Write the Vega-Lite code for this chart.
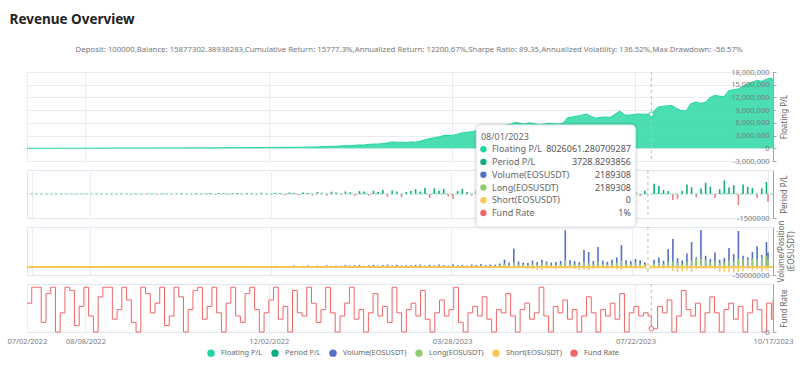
{
"$schema": "https://vega.github.io/schema/vega-lite/v6.json",
"background": "white",
"padding": {"left": 6, "top": 13, "right": 0, "bottom": 0},
"title": {"text": "Revenue Overview", "anchor": "start", "fontSize": 13.5, "fontWeight": "bold", "color": "#222", "offset": 19, "dx": 3, "font": "Noto Sans"},
"datasets": {
"hv": [{"date": "2023-08-01", "fpl": 8026061.28, "ppl": 3728.83, "sht": 0, "fund": 1}],
"tip": [
{"name": "08/01/2023", "val": ""},
{"name": "Floating P/L", "val": "8026061.280709287"},
{"name": "Period P/L", "val": "3728.8293856"},
{"name": "Volume(EOSUSDT)", "val": "2189308"},
{"name": "Long(EOSUSDT)", "val": "2189308"},
{"name": "Short(EOSUSDT)", "val": "0"},
{"name": "Fund Rate", "val": "1%"}
],
"d": [
{"date":"2022-07-02","fpl":0,"ppl":15000,"vol":2e6,"lng":1e6,"sht":-1e6,"fund":9},
{"date":"2022-07-05","fpl":10000,"ppl":-10000,"vol":1.5e6,"lng":0.5e6,"sht":-1e6,"fund":14},
{"date":"2022-07-08","fpl":5000,"ppl":20000,"vol":2.5e6,"lng":1e6,"sht":-1.5e6,"fund":14},
{"date":"2022-07-11","fpl":-10000,"ppl":-25000,"vol":1.5e6,"lng":0.5e6,"sht":-0.5e6,"fund":3},
{"date":"2022-07-14","fpl":0,"ppl":10000,"vol":3e6,"lng":1.5e6,"sht":-1e6,"fund":12},
{"date":"2022-07-17","fpl":10000,"ppl":18000,"vol":2e6,"lng":1e6,"sht":-1e6,"fund":14},
{"date":"2022-07-20","fpl":15000,"ppl":-12000,"vol":1.5e6,"lng":0.5e6,"sht":-0.5e6,"fund":0},
{"date":"2022-07-23","fpl":10000,"ppl":22000,"vol":2.5e6,"lng":1e6,"sht":-1.5e6,"fund":6},
{"date":"2022-07-26","fpl":20000,"ppl":15000,"vol":3.5e6,"lng":1.5e6,"sht":-1e6,"fund":14},
{"date":"2022-07-29","fpl":25000,"ppl":-20000,"vol":2e6,"lng":1e6,"sht":-1e6,"fund":13},
{"date":"2022-08-01","fpl":20000,"ppl":12000,"vol":1.5e6,"lng":0.5e6,"sht":-0.5e6,"fund":2},
{"date":"2022-08-04","fpl":30000,"ppl":25000,"vol":3e6,"lng":1.5e6,"sht":-1.5e6,"fund":8},
{"date":"2022-08-07","fpl":35000,"ppl":-8000,"vol":2.5e6,"lng":1e6,"sht":-1e6,"fund":14},
{"date":"2022-08-10","fpl":30000,"ppl":18000,"vol":2e6,"lng":1e6,"sht":-0.5e6,"fund":5},
{"date":"2022-08-13","fpl":45000,"ppl":30000,"vol":4e6,"lng":2e6,"sht":-1.5e6,"fund":0},
{"date":"2022-08-16","fpl":40000,"ppl":-15000,"vol":2.5e6,"lng":1e6,"sht":-1e6,"fund":11},
{"date":"2022-08-19","fpl":50000,"ppl":20000,"vol":2e6,"lng":1e6,"sht":-1e6,"fund":14},
{"date":"2022-08-22","fpl":55000,"ppl":28000,"vol":3e6,"lng":1.5e6,"sht":-1e6,"fund":14},
{"date":"2022-08-25","fpl":50000,"ppl":-22000,"vol":2.5e6,"lng":1e6,"sht":-1.5e6,"fund":4},
{"date":"2022-08-28","fpl":60000,"ppl":35000,"vol":3.5e6,"lng":1.5e6,"sht":-1e6,"fund":7},
{"date":"2022-08-31","fpl":58000,"ppl":14000,"vol":2e6,"lng":1e6,"sht":-0.5e6,"fund":14},
{"date":"2022-09-03","fpl":65000,"ppl":-30000,"vol":3e6,"lng":1.5e6,"sht":-1e6,"fund":10},
{"date":"2022-09-06","fpl":62000,"ppl":25000,"vol":4e6,"lng":2e6,"sht":-1.5e6,"fund":3},
{"date":"2022-09-09","fpl":70000,"ppl":18000,"vol":2.5e6,"lng":1e6,"sht":-1e6,"fund":0},
{"date":"2022-09-12","fpl":68000,"ppl":-12000,"vol":2e6,"lng":1e6,"sht":-1e6,"fund":14},
{"date":"2022-09-15","fpl":75000,"ppl":30000,"vol":4.5e6,"lng":2e6,"sht":-1.5e6,"fund":12},
{"date":"2022-09-18","fpl":72000,"ppl":22000,"vol":3e6,"lng":1.5e6,"sht":-1e6,"fund":6},
{"date":"2022-09-21","fpl":80000,"ppl":-25000,"vol":2.5e6,"lng":1e6,"sht":-1e6,"fund":9},
{"date":"2022-09-24","fpl":78000,"ppl":40000,"vol":3.5e6,"lng":1.5e6,"sht":-1.5e6,"fund":14},
{"date":"2022-09-27","fpl":85000,"ppl":18000,"vol":5e6,"lng":2.5e6,"sht":-1.5e6,"fund":2},
{"date":"2022-09-30","fpl":82000,"ppl":-35000,"vol":3e6,"lng":1.5e6,"sht":-1e6,"fund":5},
{"date":"2022-10-03","fpl":90000,"ppl":28000,"vol":4e6,"lng":2e6,"sht":-1e6,"fund":14},
{"date":"2022-10-06","fpl":88000,"ppl":45000,"vol":2.5e6,"lng":1e6,"sht":-1.5e6,"fund":11},
{"date":"2022-10-09","fpl":95000,"ppl":-20000,"vol":4.5e6,"lng":2e6,"sht":-1e6,"fund":0},
{"date":"2022-10-12","fpl":100000,"ppl":35000,"vol":3.5e6,"lng":1.5e6,"sht":-1e6,"fund":7},
{"date":"2022-10-15","fpl":98000,"ppl":50000,"vol":5.5e6,"lng":2.5e6,"sht":-1.5e6,"fund":13},
{"date":"2022-10-18","fpl":105000,"ppl":-40000,"vol":3e6,"lng":1.5e6,"sht":-1e6,"fund":14},
{"date":"2022-10-21","fpl":110000,"ppl":30000,"vol":4e6,"lng":2e6,"sht":-1.5e6,"fund":4},
{"date":"2022-10-24","fpl":108000,"ppl":60000,"vol":5e6,"lng":2.5e6,"sht":-1e6,"fund":8},
{"date":"2022-10-27","fpl":115000,"ppl":-25000,"vol":3.5e6,"lng":1.5e6,"sht":-1.5e6,"fund":14},
{"date":"2022-10-30","fpl":120000,"ppl":45000,"vol":6e6,"lng":3e6,"sht":-1.5e6,"fund":6},
{"date":"2022-11-02","fpl":125000,"ppl":55000,"vol":4e6,"lng":2e6,"sht":-1e6,"fund":0},
{"date":"2022-11-05","fpl":122000,"ppl":-50000,"vol":4.5e6,"lng":2e6,"sht":-1.5e6,"fund":9},
{"date":"2022-11-08","fpl":135000,"ppl":40000,"vol":7e6,"lng":3.5e6,"sht":-1.5e6,"fund":14},
{"date":"2022-11-11","fpl":132000,"ppl":70000,"vol":4e6,"lng":2e6,"sht":-1e6,"fund":5},
{"date":"2022-11-14","fpl":145000,"ppl":-35000,"vol":5.5e6,"lng":2.5e6,"sht":-1.5e6,"fund":3},
{"date":"2022-11-17","fpl":155000,"ppl":60000,"vol":4.5e6,"lng":2e6,"sht":-1e6,"fund":12},
{"date":"2022-11-20","fpl":150000,"ppl":45000,"vol":6.5e6,"lng":3e6,"sht":-1.5e6,"fund":14},
{"date":"2022-11-23","fpl":165000,"ppl":-60000,"vol":5e6,"lng":2.5e6,"sht":-1.5e6,"fund":7},
{"date":"2022-11-26","fpl":175000,"ppl":80000,"vol":7.5e6,"lng":3.5e6,"sht":-2e6,"fund":0},
{"date":"2022-11-29","fpl":170000,"ppl":50000,"vol":4.5e6,"lng":2e6,"sht":-1.5e6,"fund":6},
{"date":"2022-12-02","fpl":185000,"ppl":-45000,"vol":6e6,"lng":3e6,"sht":-1.5e6,"fund":10},
{"date":"2022-12-05","fpl":195000,"ppl":75000,"vol":8e6,"lng":4e6,"sht":-2e6,"fund":14},
{"date":"2022-12-08","fpl":190000,"ppl":60000,"vol":5e6,"lng":2.5e6,"sht":-1.5e6,"fund":4},
{"date":"2022-12-11","fpl":210000,"ppl":-80000,"vol":7e6,"lng":3.5e6,"sht":-1.5e6,"fund":8},
{"date":"2022-12-14","fpl":225000,"ppl":90000,"vol":5.5e6,"lng":2.5e6,"sht":-2e6,"fund":0},
{"date":"2022-12-17","fpl":220000,"ppl":55000,"vol":9e6,"lng":4.5e6,"sht":-2e6,"fund":13},
{"date":"2022-12-20","fpl":240000,"ppl":-70000,"vol":6e6,"lng":3e6,"sht":-1.5e6,"fund":6},
{"date":"2022-12-23","fpl":260000,"ppl":100000,"vol":7.5e6,"lng":3.5e6,"sht":-2e6,"fund":5},
{"date":"2022-12-26","fpl":255000,"ppl":65000,"vol":10e6,"lng":5e6,"sht":-2e6,"fund":14},
{"date":"2022-12-29","fpl":290000,"ppl":-90000,"vol":6.5e6,"lng":3e6,"sht":-1.5e6,"fund":9},
{"date":"2023-01-01","fpl":320000,"ppl":120000,"vol":8.5e6,"lng":4e6,"sht":-2e6,"fund":3},
{"date":"2023-01-04","fpl":350000,"ppl":80000,"vol":7e6,"lng":3.5e6,"sht":-1.5e6,"fund":7},
{"date":"2023-01-07","fpl":400000,"ppl":-100000,"vol":11e6,"lng":5.5e6,"sht":-2.5e6,"fund":14},
{"date":"2023-01-10","fpl":450000,"ppl":140000,"vol":7.5e6,"lng":3.5e6,"sht":-2e6,"fund":6},
{"date":"2023-01-13","fpl":480000,"ppl":90000,"vol":9.5e6,"lng":4.5e6,"sht":-2e6,"fund":0},
{"date":"2023-01-16","fpl":550000,"ppl":-60000,"vol":8e6,"lng":4e6,"sht":-2e6,"fund":5},
{"date":"2023-01-19","fpl":600000,"ppl":160000,"vol":12e6,"lng":6e6,"sht":-2.5e6,"fund":9},
{"date":"2023-01-22","fpl":620000,"ppl":110000,"vol":9e6,"lng":4.5e6,"sht":-2e6,"fund":14},
{"date":"2023-01-25","fpl":680000,"ppl":-120000,"vol":10.5e6,"lng":5e6,"sht":-2.5e6,"fund":4},
{"date":"2023-01-28","fpl":780000,"ppl":180000,"vol":13e6,"lng":6.5e6,"sht":-2.5e6,"fund":7},
{"date":"2023-01-31","fpl":760000,"ppl":150000,"vol":8.5e6,"lng":4e6,"sht":-2e6,"fund":0},
{"date":"2023-02-03","fpl":900000,"ppl":-90000,"vol":11.5e6,"lng":5.5e6,"sht":-2.5e6,"fund":6},
{"date":"2023-02-06","fpl":1000000,"ppl":200000,"vol":14e6,"lng":7e6,"sht":-2.5e6,"fund":12},
{"date":"2023-02-09","fpl":980000,"ppl":130000,"vol":10e6,"lng":5e6,"sht":-2e6,"fund":5},
{"date":"2023-02-12","fpl":1150000,"ppl":250000,"vol":12.5e6,"lng":6e6,"sht":-2.5e6,"fund":8},
{"date":"2023-02-15","fpl":1250000,"ppl":-180000,"vol":15e6,"lng":7.5e6,"sht":-3e6,"fund":3},
{"date":"2023-02-18","fpl":1500000,"ppl":220000,"vol":11e6,"lng":5.5e6,"sht":-2.5e6,"fund":14},
{"date":"2023-02-21","fpl":1400000,"ppl":160000,"vol":13.5e6,"lng":6.5e6,"sht":-2.5e6,"fund":6},
{"date":"2023-02-24","fpl":1450000,"ppl":-200000,"vol":9.5e6,"lng":4.5e6,"sht":-2e6,"fund":0},
{"date":"2023-02-27","fpl":1350000,"ppl":120000,"vol":12e6,"lng":6e6,"sht":-2.5e6,"fund":7},
{"date":"2023-03-02","fpl":1500000,"ppl":180000,"vol":10.5e6,"lng":5e6,"sht":-2.5e6,"fund":9},
{"date":"2023-03-05","fpl":1450000,"ppl":300000,"vol":13e6,"lng":6.5e6,"sht":-3e6,"fund":5},
{"date":"2023-03-08","fpl":1700000,"ppl":150000,"vol":15e6,"lng":7.5e6,"sht":-3e6,"fund":13},
{"date":"2023-03-11","fpl":2000000,"ppl":380000,"vol":9e6,"lng":4.5e6,"sht":-2.5e6,"fund":4},
{"date":"2023-03-14","fpl":2300000,"ppl":-240000,"vol":14e6,"lng":7e6,"sht":-3e6,"fund":0},
{"date":"2023-03-17","fpl":2500000,"ppl":350000,"vol":11e6,"lng":5.5e6,"sht":-2.5e6,"fund":6},
{"date":"2023-03-20","fpl":2700000,"ppl":200000,"vol":16e6,"lng":8e6,"sht":-3e6,"fund":10},
{"date":"2023-03-23","fpl":3100000,"ppl":320000,"vol":12.5e6,"lng":6e6,"sht":-3e6,"fund":5},
{"date":"2023-03-26","fpl":3000000,"ppl":-150000,"vol":10e6,"lng":5e6,"sht":-2.5e6,"fund":7},
{"date":"2023-03-29","fpl":3100000,"ppl":-300000,"vol":17.5e6,"lng":8.5e6,"sht":-3e6,"fund":14},
{"date":"2023-04-01","fpl":3400000,"ppl":180000,"vol":11e6,"lng":5.5e6,"sht":-2.5e6,"fund":3},
{"date":"2023-04-04","fpl":3700000,"ppl":320000,"vol":14e6,"lng":7e6,"sht":-3e6,"fund":0},
{"date":"2023-04-07","fpl":3800000,"ppl":120000,"vol":9e6,"lng":4.5e6,"sht":-2.5e6,"fund":6},
{"date":"2023-04-10","fpl":3900000,"ppl":-100000,"vol":15e6,"lng":7.5e6,"sht":-3e6,"fund":8},
{"date":"2023-04-13","fpl":4300000,"ppl":250000,"vol":12.5e6,"lng":6e6,"sht":-3e6,"fund":5},
{"date":"2023-04-16","fpl":4500000,"ppl":200000,"vol":18.5e6,"lng":9e6,"sht":-3.5e6,"fund":11},
{"date":"2023-04-19","fpl":4600000,"ppl":-150000,"vol":12e6,"lng":6e6,"sht":-3e6,"fund":4},
{"date":"2023-04-22","fpl":4900000,"ppl":300000,"vol":15.5e6,"lng":7.5e6,"sht":-3e6,"fund":0},
{"date":"2023-04-25","fpl":5000000,"ppl":180000,"vol":14e6,"lng":7e6,"sht":-3.5e6,"fund":7},
{"date":"2023-04-28","fpl":5200000,"ppl":260000,"vol":22e6,"lng":11e6,"sht":-6e6,"fund":6},
{"date":"2023-05-01","fpl":5500000,"ppl":350000,"vol":45e6,"lng":20e6,"sht":-8e6,"fund":12},
{"date":"2023-05-04","fpl":5700000,"ppl":-200000,"vol":26e6,"lng":13e6,"sht":-7e6,"fund":5},
{"date":"2023-05-07","fpl":6100000,"ppl":650000,"vol":114e6,"lng":30e6,"sht":-10e6,"fund":0},
{"date":"2023-05-10","fpl":5900000,"ppl":-250000,"vol":35e6,"lng":17e6,"sht":-9e6,"fund":7},
{"date":"2023-05-13","fpl":5700000,"ppl":-180000,"vol":28e6,"lng":14e6,"sht":-8e6,"fund":9},
{"date":"2023-05-16","fpl":6000000,"ppl":300000,"vol":25e6,"lng":12e6,"sht":-12e6,"fund":4},
{"date":"2023-05-19","fpl":5800000,"ppl":-220000,"vol":40e6,"lng":20e6,"sht":-15e6,"fund":6},
{"date":"2023-05-22","fpl":5600000,"ppl":150000,"vol":30e6,"lng":15e6,"sht":-18e6,"fund":14},
{"date":"2023-05-25","fpl":5700000,"ppl":200000,"vol":46e6,"lng":25e6,"sht":-19e6,"fund":5},
{"date":"2023-05-28","fpl":5900000,"ppl":250000,"vol":35e6,"lng":25e6,"sht":-12e6,"fund":0},
{"date":"2023-05-31","fpl":5800000,"ppl":-120000,"vol":28e6,"lng":14e6,"sht":-10e6,"fund":8},
{"date":"2023-06-03","fpl":5700000,"ppl":180000,"vol":32e6,"lng":16e6,"sht":-14e6,"fund":6},
{"date":"2023-06-06","fpl":5900000,"ppl":220000,"vol":38e6,"lng":19e6,"sht":-9e6,"fund":10},
{"date":"2023-06-09","fpl":7200000,"ppl":900000,"vol":229e6,"lng":40e6,"sht":-12e6,"fund":4},
{"date":"2023-06-12","fpl":7400000,"ppl":350000,"vol":42e6,"lng":21e6,"sht":-10e6,"fund":7},
{"date":"2023-06-15","fpl":7600000,"ppl":300000,"vol":36e6,"lng":18e6,"sht":-14e6,"fund":0},
{"date":"2023-06-18","fpl":7800000,"ppl":420000,"vol":30e6,"lng":15e6,"sht":-19e6,"fund":5},
{"date":"2023-06-21","fpl":8100000,"ppl":500000,"vol":106e6,"lng":30e6,"sht":-16e6,"fund":11},
{"date":"2023-06-24","fpl":7500000,"ppl":-350000,"vol":94e6,"lng":25e6,"sht":-19e6,"fund":6},
{"date":"2023-06-27","fpl":7100000,"ppl":-300000,"vol":38e6,"lng":19e6,"sht":-12e6,"fund":0},
{"date":"2023-06-30","fpl":7300000,"ppl":250000,"vol":125e6,"lng":35e6,"sht":-10e6,"fund":7},
{"date":"2023-07-03","fpl":7400000,"ppl":200000,"vol":40e6,"lng":20e6,"sht":-8e6,"fund":5},
{"date":"2023-07-06","fpl":7300000,"ppl":-180000,"vol":32e6,"lng":16e6,"sht":-12e6,"fund":9},
{"date":"2023-07-09","fpl":8000000,"ppl":600000,"vol":45e6,"lng":22e6,"sht":-9e6,"fund":4},
{"date":"2023-07-12","fpl":8800000,"ppl":700000,"vol":60e6,"lng":28e6,"sht":-14e6,"fund":12},
{"date":"2023-07-15","fpl":7900000,"ppl":-450000,"vol":137e6,"lng":40e6,"sht":-19e6,"fund":0},
{"date":"2023-07-18","fpl":7800000,"ppl":150000,"vol":42e6,"lng":21e6,"sht":-10e6,"fund":6},
{"date":"2023-07-21","fpl":8000000,"ppl":250000,"vol":36e6,"lng":18e6,"sht":-8e6,"fund":8},
{"date":"2023-07-24","fpl":8100000,"ppl":180000,"vol":50e6,"lng":25e6,"sht":-12e6,"fund":5},
{"date":"2023-07-27","fpl":8000000,"ppl":-120000,"vol":40e6,"lng":20e6,"sht":-9e6,"fund":6},
{"date":"2023-07-30","fpl":8100000,"ppl":200000,"vol":30e6,"lng":15e6,"sht":-7e6,"fund":5},
{"date":"2023-08-01","fpl":8026061.28,"ppl":3728.83,"vol":2189308,"lng":2189308,"sht":0,"fund":1},
{"date":"2023-08-05","fpl":9700000,"ppl":640000,"vol":45e6,"lng":20e6,"sht":-10e6,"fund":8},
{"date":"2023-08-08","fpl":9900000,"ppl":500000,"vol":60e6,"lng":25e6,"sht":-8e6,"fund":6},
{"date":"2023-08-11","fpl":10000000,"ppl":250000,"vol":38e6,"lng":20e6,"sht":-12e6,"fund":10},
{"date":"2023-08-14","fpl":10100000,"ppl":180000,"vol":112e6,"lng":30e6,"sht":-10e6,"fund":0},
{"date":"2023-08-17","fpl":9400000,"ppl":-375000,"vol":175e6,"lng":35e6,"sht":-25e6,"fund":5},
{"date":"2023-08-20","fpl":8900000,"ppl":-300000,"vol":55e6,"lng":25e6,"sht":-31e6,"fund":13},
{"date":"2023-08-23","fpl":8800000,"ppl":200000,"vol":40e6,"lng":20e6,"sht":-28e6,"fund":7},
{"date":"2023-08-26","fpl":10500000,"ppl":600000,"vol":85e6,"lng":30e6,"sht":-20e6,"fund":5},
{"date":"2023-08-29","fpl":10900000,"ppl":420000,"vol":156e6,"lng":40e6,"sht":-31e6,"fund":9},
{"date":"2023-09-01","fpl":10600000,"ppl":-200000,"vol":60e6,"lng":50e6,"sht":-15e6,"fund":0},
{"date":"2023-09-04","fpl":10800000,"ppl":350000,"vol":231e6,"lng":50e6,"sht":-10e6,"fund":6},
{"date":"2023-09-07","fpl":11900000,"ppl":700000,"vol":70e6,"lng":45e6,"sht":-12e6,"fund":11},
{"date":"2023-09-10","fpl":12500000,"ppl":450000,"vol":50e6,"lng":30e6,"sht":-9e6,"fund":6},
{"date":"2023-09-13","fpl":12300000,"ppl":-250000,"vol":90e6,"lng":35e6,"sht":-15e6,"fund":0},
{"date":"2023-09-16","fpl":12200000,"ppl":300000,"vol":45e6,"lng":25e6,"sht":-31e6,"fund":7},
{"date":"2023-09-19","fpl":13600000,"ppl":850000,"vol":56e6,"lng":30e6,"sht":-28e6,"fund":9},
{"date":"2023-09-22","fpl":13800000,"ppl":400000,"vol":119e6,"lng":40e6,"sht":-31e6,"fund":4},
{"date":"2023-09-25","fpl":14000000,"ppl":550000,"vol":80e6,"lng":35e6,"sht":-35e6,"fund":8},
{"date":"2023-09-28","fpl":14600000,"ppl":-690000,"vol":225e6,"lng":50e6,"sht":-30e6,"fund":0},
{"date":"2023-10-01","fpl":15200000,"ppl":600000,"vol":70e6,"lng":50e6,"sht":-25e6,"fund":6},
{"date":"2023-10-04","fpl":15600000,"ppl":450000,"vol":60e6,"lng":45e6,"sht":-12e6,"fund":10},
{"date":"2023-10-07","fpl":16000000,"ppl":380000,"vol":95e6,"lng":55e6,"sht":-20e6,"fund":7},
{"date":"2023-10-10","fpl":15800000,"ppl":-250000,"vol":130e6,"lng":50e6,"sht":-15e6,"fund":0},
{"date":"2023-10-13","fpl":16300000,"ppl":350000,"vol":75e6,"lng":60e6,"sht":-30e6,"fund":9},
{"date":"2023-10-16","fpl":16600000,"ppl":750000,"vol":156e6,"lng":70e6,"sht":-20e6,"fund":4},
{"date":"2023-10-17","fpl":16200000,"ppl":-480000,"vol":90e6,"lng":50e6,"sht":-10e6,"fund":10}
]
},
"spacing": 9,
"bounds": "flush",
"resolve": {"scale": {"color": "shared"}},
"vconcat": [
{
"width": 746, "height": 89,
"title": {"text": "Deposit: 100000,Balance: 15877302.38938283,Cumulative Return: 15777.3%,Annualized Return: 12200.67%,Sharpe Ratio: 89.35,Annualized Volatility: 136.52%,Max Drawdown: -56.57%", "fontSize": 7.8, "fontWeight": "normal", "color": "#777", "anchor": "middle", "frame": "group", "dx": 9, "offset": 14},
"resolve": {"axis": {"y": "independent"}},
"layer": [
{"data": {"name": "d"},
"mark": {"type": "area", "fillOpacity": 0.8, "line": {"strokeWidth": 1}},
"encoding": {
"x": {"field": "date", "type": "temporal", "scale": {"type": "utc", "nice": false, "domain": [{"year": 2022, "month": 7, "date": 2, "utc": true}, {"year": 2023, "month": 10, "date": 17, "utc": true}]},
"axis": {"values": [{"year": 2022, "month": 7, "date": 2, "utc": true}, {"year": 2022, "month": 8, "date": 8, "utc": true}, {"year": 2022, "month": 12, "date": 2, "utc": true}, {"year": 2023, "month": 3, "date": 28, "utc": true}, {"year": 2023, "month": 7, "date": 22, "utc": true}, {"year": 2023, "month": 10, "date": 17, "utc": true}], "labels": false, "ticks": false, "domain": false, "grid": true, "title": null}},
"y": {"field": "fpl", "type": "quantitative", "scale": {"domain": [-3000000, 18000000], "nice": false},
"axis": {"orient": "right", "values": [-3000000, 0, 3000000, 6000000, 9000000, 12000000, 15000000, 18000000], "grid": true, "labels": false, "ticks": false, "domain": false, "title": null, "maxExtent": 0, "zindex": 0}},
"color": {"datum": "Floating P/L", "type": "nominal",
"scale": {"domain": ["Floating P/L", "Period P/L", "Volume(EOSUSDT)", "Long(EOSUSDT)", "Short(EOSUSDT)", "Fund Rate"], "range": ["#1fd6a0", "#10ad7e", "#5470c6", "#91cc75", "#fac858", "#ee6666"]},
"legend": {"orient": "none", "legendX": 180, "legendY": 277, "direction": "horizontal", "title": null, "symbolType": "circle", "symbolSize": 55, "symbolOpacity": 1, "symbolStrokeWidth": 0, "labelFontSize": 7.4, "labelColor": "#666", "labelOffset": 6, "columnPadding": 8}}
}},
{"data": {"name": "hv"}, "mark": {"type": "rule", "color": "#b9bcc4", "strokeDash": [3, 3], "strokeWidth": 1}, "encoding": {"x": {"field": "date", "type": "temporal"}}},
{"data": {"name": "hv"}, "mark": {"type": "point", "filled": true, "fill": "white", "stroke": "#1fd6a0", "strokeWidth": 1, "size": 22, "opacity": 1},
"encoding": {"x": {"field": "date", "type": "temporal"},
"y": {"field": "fpl", "type": "quantitative", "axis": {"orient": "right", "values": [-3000000, 0, 3000000, 6000000, 9000000, 12000000, 15000000, 18000000], "format": ",d", "labelAlign": "right", "labelPadding": -7, "tickSize": 3, "grid": false, "labelOverlap": false, "labelFlush": false, "labelBound": false, "title": "Floating P/L", "titleAngle": 270, "titleBaseline": "top", "titlePadding": 4, "zindex": 2}}}}
]
},
{
"width": 746, "height": 48,
"resolve": {"scale": {"y": "independent"}},
"layer": [
{"layer": [
{"data": {"name": "d"},
"mark": {"type": "bar", "width": 1.6},
"encoding": {
"x": {"field": "date", "type": "temporal", "scale": {"type": "utc", "nice": false, "domain": [{"year": 2022, "month": 7, "date": 2, "utc": true}, {"year": 2023, "month": 10, "date": 17, "utc": true}]},
"axis": {"values": [{"year": 2022, "month": 7, "date": 2, "utc": true}, {"year": 2022, "month": 8, "date": 8, "utc": true}, {"year": 2022, "month": 12, "date": 2, "utc": true}, {"year": 2023, "month": 3, "date": 28, "utc": true}, {"year": 2023, "month": 7, "date": 22, "utc": true}, {"year": 2023, "month": 10, "date": 17, "utc": true}], "labels": false, "ticks": false, "domain": false, "grid": true, "title": null}},
"y": {"field": "ppl", "type": "quantitative", "scale": {"domain": [-1500000, 1500000], "nice": false},
"axis": {"orient": "right", "values": [-1500000], "format": "d", "labelAlign": "right", "labelPadding": -7, "tickSize": 3, "grid": false, "labelOverlap": false, "labelFlush": false, "labelBound": false, "title": "Period P/L", "titleAngle": 270, "titleBaseline": "top", "titlePadding": 4, "zindex": 1}},
"color": {"condition": {"test": "datum.ppl < 0", "value": "#f07b86"}, "datum": "Period P/L", "type": "nominal", "legend": null}
}},
{"data": {"name": "hv"}, "mark": {"type": "rule", "color": "#7fd6b9", "strokeDash": [3, 2], "strokeWidth": 1}, "encoding": {"y": {"datum": 0}}},
{"data": {"name": "hv"}, "mark": {"type": "rule", "color": "#b9bcc4", "strokeDash": [3, 3], "strokeWidth": 1}, "encoding": {"x": {"field": "date", "type": "temporal"}}},
{"data": {"name": "hv"}, "mark": {"type": "rect", "fill": "white", "stroke": "#000", "strokeOpacity": 0.06, "strokeWidth": 5, "cornerRadius": 5, "clip": false},
"encoding": {"x": {"datum": {"year": 2023, "month": 4, "date": 13, "utc": true}, "type": "temporal"}, "x2": {"datum": {"year": 2023, "month": 7, "date": 24, "utc": true}}, "y": {"datum": 4312500, "type": "quantitative"}, "y2": {"datum": -2062500}}},
{"data": {"name": "hv"}, "mark": {"type": "rect", "fill": "white", "stroke": "#e6e6e6", "strokeWidth": 1, "cornerRadius": 4, "clip": false},
"encoding": {"x": {"datum": {"year": 2023, "month": 4, "date": 13, "utc": true}, "type": "temporal"}, "x2": {"datum": {"year": 2023, "month": 7, "date": 24, "utc": true}}, "y": {"datum": 4312500, "type": "quantitative"}, "y2": {"datum": -2062500}}}
]},
{"data": {"name": "tip"},
"encoding": {
"y": {"field": "name", "type": "ordinal", "scale": {"type": "point", "domain": ["08/01/2023", "Floating P/L", "Period P/L", "Volume(EOSUSDT)", "Long(EOSUSDT)", "Short(EOSUSDT)", "Fund Rate"], "range": [-33.5, 43], "padding": 0}, "axis": null},
"x": {"datum": {"year": 2023, "month": 8, "date": 1, "utc": true}, "type": "temporal"}
},
"layer": [
{"transform": [{"filter": "datum.val == ''"}], "mark": {"type": "text", "align": "left", "baseline": "middle", "dx": -167, "fontSize": 9, "color": "#666"}, "encoding": {"text": {"field": "name"}}},
{"transform": [{"filter": "datum.val != ''"}], "mark": {"type": "point", "shape": "circle", "filled": true, "size": 40, "xOffset": -164.5, "opacity": 1}, "encoding": {"color": {"field": "name", "type": "nominal", "legend": null}}},
{"transform": [{"filter": "datum.val != ''"}], "mark": {"type": "text", "align": "left", "baseline": "middle", "dx": -156, "fontSize": 9, "color": "#666"}, "encoding": {"text": {"field": "name"}}},
{"transform": [{"filter": "datum.val != ''"}], "mark": {"type": "text", "align": "right", "baseline": "middle", "dx": -17, "fontSize": 9, "color": "#555"}, "encoding": {"text": {"field": "val"}}}
]}
]
},
{
"width": 746, "height": 48,
"layer": [
{"data": {"name": "d"},
"mark": {"type": "bar", "width": 1.6},
"encoding": {
"x": {"field": "date", "type": "temporal", "scale": {"type": "utc", "nice": false, "domain": [{"year": 2022, "month": 7, "date": 2, "utc": true}, {"year": 2023, "month": 10, "date": 17, "utc": true}]},
"axis": {"values": [{"year": 2022, "month": 7, "date": 2, "utc": true}, {"year": 2022, "month": 8, "date": 8, "utc": true}, {"year": 2022, "month": 12, "date": 2, "utc": true}, {"year": 2023, "month": 3, "date": 28, "utc": true}, {"year": 2023, "month": 7, "date": 22, "utc": true}, {"year": 2023, "month": 10, "date": 17, "utc": true}], "labels": false, "ticks": false, "domain": false, "grid": true, "title": null}},
"y": {"field": "vol", "type": "quantitative", "scale": {"domain": [-50000000, 250000000], "nice": false},
"axis": {"orient": "right", "values": [-50000000], "format": "d", "labelAlign": "right", "labelPadding": -7, "tickSize": 3, "grid": false, "labelOverlap": false, "labelFlush": false, "labelBound": false, "title": ["Volume/Position", "(EOSUSDT)"], "titleAngle": 270, "titleBaseline": "top", "titlePadding": -9, "zindex": 1}},
"color": {"datum": "Volume(EOSUSDT)", "type": "nominal", "legend": null}
}},
{"data": {"name": "d"}, "mark": {"type": "bar", "width": 1.6}, "encoding": {"x": {"field": "date", "type": "temporal"}, "y": {"field": "lng", "type": "quantitative"}, "color": {"datum": "Long(EOSUSDT)", "type": "nominal", "legend": null}}},
{"data": {"name": "d"}, "mark": {"type": "bar", "width": 1.6}, "encoding": {"x": {"field": "date", "type": "temporal"}, "y": {"field": "sht", "type": "quantitative"}, "color": {"datum": "Short(EOSUSDT)", "type": "nominal", "legend": null}}},
{"data": {"name": "hv"}, "mark": {"type": "rule", "color": "#fac858", "strokeWidth": 1.8}, "encoding": {"y": {"datum": 0}}},
{"data": {"name": "hv"}, "mark": {"type": "rule", "color": "#b9bcc4", "strokeDash": [3, 3], "strokeWidth": 1}, "encoding": {"x": {"field": "date", "type": "temporal"}}},
{"data": {"name": "hv"}, "mark": {"type": "point", "filled": true, "fill": "white", "stroke": "#fac858", "strokeWidth": 1, "size": 22, "opacity": 1}, "encoding": {"x": {"field": "date", "type": "temporal"}, "y": {"field": "sht", "type": "quantitative"}}}
]
},
{
"width": 746, "height": 48,
"layer": [
{"data": {"name": "d"},
"mark": {"type": "line", "interpolate": "step-after", "strokeWidth": 1},
"encoding": {
"x": {"field": "date", "type": "temporal", "scale": {"type": "utc", "nice": false, "domain": [{"year": 2022, "month": 7, "date": 2, "utc": true}, {"year": 2023, "month": 10, "date": 17, "utc": true}]},
"axis": {"values": [{"year": 2022, "month": 7, "date": 2, "utc": true}, {"year": 2022, "month": 8, "date": 8, "utc": true}, {"year": 2022, "month": 12, "date": 2, "utc": true}, {"year": 2023, "month": 3, "date": 28, "utc": true}, {"year": 2023, "month": 7, "date": 22, "utc": true}, {"year": 2023, "month": 10, "date": 17, "utc": true}], "format": "%m/%d/%Y", "labelFlush": false, "labelOverlap": false, "labelBound": false, "ticks": false, "domain": false, "grid": true, "labelPadding": 5, "title": null}},
"y": {"field": "fund", "type": "quantitative", "scale": {"domain": [0, 15], "nice": false},
"axis": {"orient": "right", "values": [0], "format": "d", "labelAlign": "right", "labelPadding": -7, "tickSize": 3, "grid": false, "labelOverlap": false, "labelFlush": false, "labelBound": false, "title": "Fund Rate", "titleAngle": 270, "titleBaseline": "top", "titlePadding": 4, "zindex": 1}},
"color": {"datum": "Fund Rate", "type": "nominal", "legend": null}
}},
{"data": {"name": "hv"}, "mark": {"type": "rule", "color": "#b9bcc4", "strokeDash": [3, 3], "strokeWidth": 1}, "encoding": {"x": {"field": "date", "type": "temporal"}}},
{"data": {"name": "hv"}, "mark": {"type": "point", "filled": true, "fill": "white", "stroke": "#ee6666", "strokeWidth": 1, "size": 22, "opacity": 1}, "encoding": {"x": {"field": "date", "type": "temporal"}, "y": {"field": "fund", "type": "quantitative"}}}
]
}
],
"config": {
"font": "Noto Sans",
"locale": {"number": {"decimal": ".", "thousands": ",", "grouping": [3], "currency": ["$", ""], "minus": "-"}},
"view": {"stroke": "#e0e6f1", "strokeWidth": 1},
"axis": {"labelFontSize": 7.5, "labelColor": "#7a7c85", "gridColor": "#e9ecf3", "domainColor": "#a0a3ab", "tickColor": "#a0a3ab", "titleFontWeight": "normal", "titleFontSize": 8, "titleColor": "#666", "minExtent": 0}
}
}
